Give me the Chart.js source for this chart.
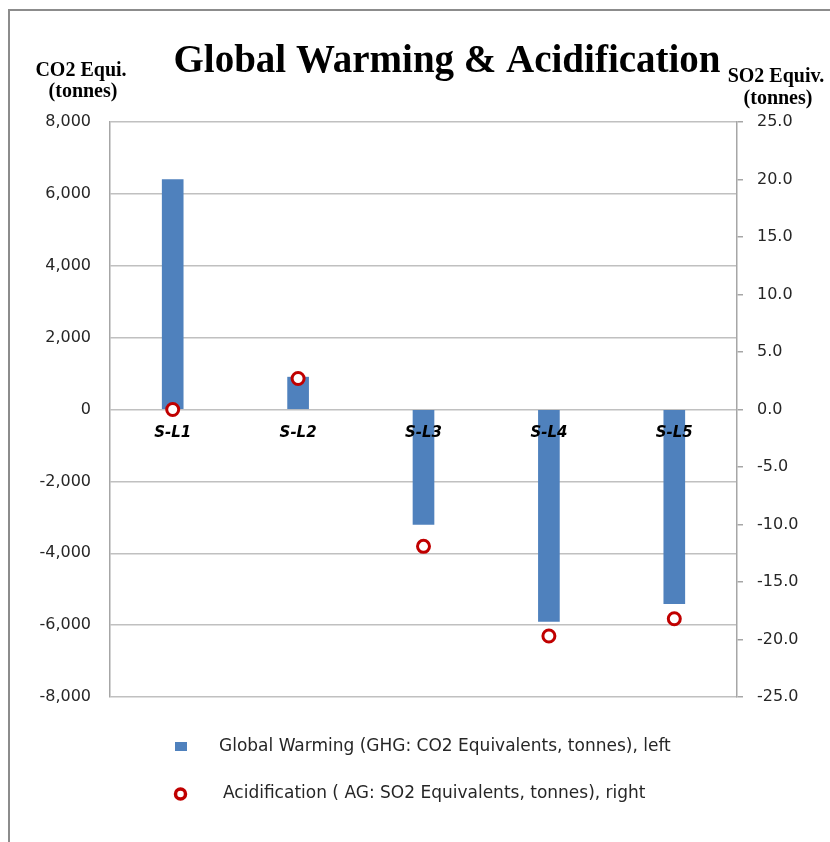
<!DOCTYPE html>
<html>
<head>
<meta charset="utf-8">
<script src="https://cdn.jsdelivr.net/npm/chart.js@4/dist/chart.umd.min.js"></script>
<style>
  html, body { margin: 0; padding: 0; background: #ffffff; }
  #wrap { width: 830px; height: 842px; position: relative; }
</style>
</head>
<body>
<div id="wrap"><canvas id="c" width="830" height="842"></canvas></div>
<script>
// Site scenarios and their impact results
const sites = ['S-L1', 'S-L2', 'S-L3', 'S-L4', 'S-L5'];
const ghgCO2 = [6400, 900, -3200, -5900, -5400];      // tonnes CO2 equivalent (left axis)
const agSO2 = [0.0, 2.7, -11.9, -19.7, -18.2];        // tonnes SO2 equivalent (right axis)

const leftTicks = [-8000, -6000, -4000, -2000, 0, 2000, 4000, 6000, 8000];
const rightTicks = [-25, -20, -15, -10, -5, 0, 5, 10, 15, 20, 25];

const seriesNames = [
  'Global Warming (GHG: CO2 Equivalents, tonnes), left',
  'Acidification ( AG: SO2 Equivalents, tonnes), right'
];
const chartTitle = 'Global Warming & Acidification';
const leftTitle = ['CO2 Equi.', '(tonnes)'];
const rightTitle = ['SO2 Equiv.', '(tonnes)'];

const BAR_BLUE = '#4f81bd';
const RING_RED = '#c00000';
const TEXT = '#262626';
const GRID = '#c0c0c0';
const AXIS = '#a6a6a6';
const tickFont = { family: 'DejaVu Sans', size: 16 };

// Outer frame around the figure
const framePlugin = {
  id: 'frame',
  beforeDraw(chart) {
    const ctx = chart.ctx;
    ctx.save();
    ctx.fillStyle = '#ffffff';
    ctx.fillRect(0, 0, chart.width, chart.height);
    ctx.strokeStyle = '#8c8c8c';
    ctx.lineWidth = 2;
    ctx.beginPath();
    ctx.moveTo(9, chart.height + 2);
    ctx.lineTo(9, 10);
    ctx.lineTo(chart.width + 2, 10);
    ctx.stroke();
    ctx.restore();
  }
};

// Main title and the two axis captions above the plot
const titlesPlugin = {
  id: 'titles',
  afterDraw(chart) {
    const ctx = chart.ctx;
    ctx.save();
    ctx.fillStyle = '#000000';
    ctx.textAlign = 'center';
    ctx.textBaseline = 'middle';
    ctx.font = 'bold 39px "Liberation Serif"';
    ctx.fillText(chartTitle, 447, 62);
    ctx.font = 'bold 20px "Liberation Serif"';
    ctx.fillText(leftTitle[0], 81, 71);
    ctx.fillText(leftTitle[1], 83, 92);
    ctx.fillText(rightTitle[0], 776, 77);
    ctx.fillText(rightTitle[1], 778, 99);
    ctx.restore();
  }
};

// Legend stacked in two rows below the plot
const legendPlugin = {
  id: 'stackedLegend',
  afterDraw(chart) {
    const ctx = chart.ctx;
    const rows = [
      { y: 747, markerX: 175, textX: 219 },
      { y: 794, markerX: 174, textX: 223 }
    ];
    ctx.save();
    ctx.textBaseline = 'middle';
    ctx.textAlign = 'left';
    ctx.font = '17px "DejaVu Sans"';
    chart.data.datasets.forEach((ds, i) => {
      const r = rows[i];
      if (ds.type === 'bar') {
        ctx.fillStyle = ds.backgroundColor;
        ctx.fillRect(r.markerX, r.y - 5, 12, 9);
      } else {
        ctx.beginPath();
        ctx.arc(r.markerX + 6.5, r.y, 5, 0, Math.PI * 2);
        ctx.fillStyle = '#ffffff';
        ctx.fill();
        ctx.lineWidth = 3.5;
        ctx.strokeStyle = ds.borderColor;
        ctx.stroke();
      }
      ctx.fillStyle = TEXT;
      ctx.fillText(ds.label, r.textX, r.y);
    });
    ctx.restore();
  }
};

new Chart(document.getElementById('c'), {
  data: {
    labels: sites,
    datasets: [
      {
        type: 'bar',
        label: seriesNames[0],
        data: ghgCO2,
        yAxisID: 'y',
        backgroundColor: BAR_BLUE,
        borderWidth: 0,
        barThickness: 21,
        order: 2
      },
      {
        type: 'line',
        label: seriesNames[1],
        data: agSO2,
        yAxisID: 'y1',
        showLine: false,
        pointStyle: 'circle',
        pointRadius: 6,
        pointBorderWidth: 3,
        pointBorderColor: RING_RED,
        pointBackgroundColor: '#ffffff',
        borderColor: RING_RED,
        backgroundColor: '#ffffff',
        order: 1
      }
    ]
  },
  options: {
    responsive: false,
    animation: false,
    devicePixelRatio: 1,
    layout: { padding: { top: 122, bottom: 145, left: 0, right: 0 } },
    plugins: {
      legend: { display: false },
      title: { display: false },
      tooltip: { enabled: false }
    },
    scales: {
      x: {
        type: 'category',
        position: { y: 0 },
        offset: true,
        grid: { display: false, drawTicks: false },
        border: { display: false },
        ticks: {
          z: 1,
          font: { family: 'DejaVu Sans', size: 15, weight: 'bold', style: 'italic' },
          color: '#000000',
          padding: 15,
          maxRotation: 0,
          autoSkip: false
        },
        afterFit(scale) { scale.height = 0; }
      },
      y: {
        position: 'left',
        min: -8000,
        max: 8000,
        afterBuildTicks(scale) { scale.ticks = leftTicks.map(v => ({ value: v })); },
        ticks: {
          font: tickFont,
          color: TEXT,
          padding: 19,
          callback: v => v.toLocaleString('en-US')
        },
        grid: { color: GRID, lineWidth: 1.5, drawTicks: false },
        border: { color: AXIS, width: 1.5 },
        afterFit(scale) { scale.width = 110; }
      },
      y1: {
        position: 'right',
        min: -25,
        max: 25,
        afterBuildTicks(scale) { scale.ticks = rightTicks.map(v => ({ value: v })); },
        ticks: {
          font: tickFont,
          color: TEXT,
          padding: 14,
          callback: v => v.toFixed(1)
        },
        grid: { drawOnChartArea: false, drawTicks: true, tickLength: 6, color: AXIS, lineWidth: 1.5 },
        border: { color: AXIS, width: 1.5 },
        afterFit(scale) { scale.width = 93; }
      }
    }
  },
  plugins: [framePlugin, titlesPlugin, legendPlugin]
});
</script>
</body>
</html>
